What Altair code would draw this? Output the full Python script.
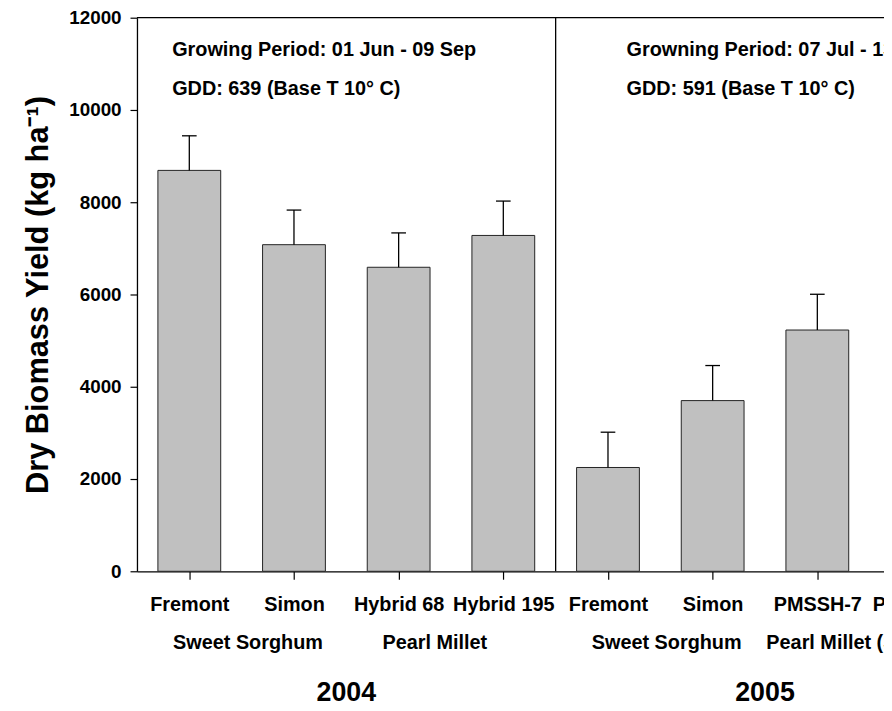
import altair as alt
import pandas as pd

# ---- data ----
cultivars = ["Fremont", "Simon", "Hybrid 68", "Hybrid 195", "Fremont", "Simon", "PMSSH-7"]
positions = [0.5, 1.5, 2.5, 3.5, 4.5, 5.5, 6.5]
yields = [8690, 7080, 6590, 7280, 2250, 3700, 5230]
errors = [750, 750, 745, 745, 765, 760, 775]

group_labels = ["Sweet Sorghum", "Pearl Millet", "Sweet Sorghum", "Pearl Millet (Sweet)"]
group_pos = [0.345, 2.345, 4.345, 6.013]

years = ["2004", "2005"]
year_pos = [2.0, 6.0]

notes = [
    "Growing Period: 01 Jun - 09 Sep",
    "GDD: 639 (Base T 10\u00b0 C)",
    "Growning Period: 07 Jul - 13 Oct",
    "GDD: 591 (Base T 10\u00b0 C)",
]
note_x = [0.336, 0.336, 4.677, 4.677]
note_y = [11160, 10320, 11160, 10320]

extra_label = ["PMSSH-11"]
extra_pos = [7.03]

y_ticks = [0, 2000, 4000, 6000, 8000, 10000, 12000]
y_max = 12000
x_max = 7.137
divider = 4.0

FONT = "Liberation Sans"
BAR_HALF = 0.3
CAP_HALF = 0.07

bars = pd.DataFrame({"name": cultivars, "pos": positions, "yield": yields, "err": errors})

x_scale = alt.Scale(domain=[0, x_max], nice=False, zero=False)
y_scale = alt.Scale(domain=[0, y_max], nice=False)

label_expr = "[" + ",".join("'" + c + "'" for c in cultivars) + "][floor(datum.value)]"

x_axis = alt.Axis(
    values=positions,
    labelExpr=label_expr,
    title=None,
    grid=False,
    tickSize=8,
    tickColor="black",
    tickWidth=1.2,
    domainColor="black",
    domainWidth=1.3,
    labelFont=FONT,
    labelFontSize=20,
    labelFontWeight="bold",
    labelColor="black",
    labelBaseline="alphabetic",
    labelPadding=32,
    labelAngle=0,
    labelFlush=False,
    labelOverlap=False,
)

y_axis = alt.Axis(
    values=y_ticks,
    format="d",
    grid=False,
    tickSize=7,
    tickColor="black",
    tickWidth=1.2,
    domainColor="black",
    domainWidth=1.3,
    labelFont=FONT,
    labelFontSize=19,
    labelFontWeight="bold",
    labelColor="black",
    labelPadding=9,
    title="Dry Biomass Yield (kg ha\u207b\u00b9)",
    titleFont=FONT,
    titleFontSize=31,
    titleFontWeight="bold",
    titleColor="black",
    titleAngle=270,
    titleAlign="center",
    titleBaseline="alphabetic",
    titleX=-90,
    titleY=279,
)

base = alt.Chart(bars).transform_calculate(
    lo=f"datum.pos - {BAR_HALF}",
    hi=f"datum.pos + {BAR_HALF}",
    top="datum.yield + datum.err",
    clo=f"datum.pos - {CAP_HALF}",
    chi=f"datum.pos + {CAP_HALF}",
    zero="0",
)

bar_layer = base.mark_bar(fill="#c0c0c0", stroke="#222222", strokeWidth=1).encode(
    x=alt.X("lo:Q", scale=x_scale, axis=x_axis),
    x2="hi:Q",
    y=alt.Y("yield:Q", scale=y_scale, axis=y_axis),
    y2="zero:Q",
)

stem = base.mark_rule(color="black", strokeWidth=1.3).encode(
    x=alt.X("pos:Q", scale=x_scale, axis=x_axis),
    y=alt.Y("yield:Q", scale=y_scale, axis=y_axis),
    y2="top:Q",
)

caps = base.mark_rule(color="black", strokeWidth=1.3).encode(
    x=alt.X("clo:Q", scale=x_scale, axis=x_axis),
    x2="chi:Q",
    y=alt.Y("top:Q", scale=y_scale, axis=y_axis),
)

frame = pd.DataFrame({"x": [0.0, divider], "x2": [x_max, divider], "y": [y_max, 0], "y2": [y_max, y_max]})
frame_layer = alt.Chart(frame).mark_rule(color="black", strokeWidth=1.3).encode(
    x=alt.X("x:Q", scale=x_scale, axis=x_axis),
    x2="x2:Q",
    y=alt.Y("y:Q", scale=y_scale, axis=y_axis),
    y2="y2:Q",
)

notes_df = pd.DataFrame({"text": notes, "x": note_x, "y": note_y})
notes_layer = alt.Chart(notes_df).mark_text(
    font=FONT, fontSize=20, fontWeight="bold", color="black", align="left", baseline="alphabetic"
).encode(
    x=alt.X("x:Q", scale=x_scale, axis=x_axis),
    y=alt.Y("y:Q", scale=y_scale, axis=y_axis),
    text="text:N",
)

groups_df = pd.DataFrame({"text": group_labels, "x": group_pos})
groups_layer = alt.Chart(groups_df).mark_text(
    font=FONT, fontSize=20, fontWeight="bold", color="black", align="left", baseline="alphabetic"
).encode(
    x=alt.X("x:Q", scale=x_scale, axis=x_axis),
    y=alt.value(636),
    text="text:N",
)

extra_df = pd.DataFrame({"text": extra_label, "x": extra_pos})
extra_layer = alt.Chart(extra_df).mark_text(
    font=FONT, fontSize=20, fontWeight="bold", color="black", align="left", baseline="alphabetic"
).encode(
    x=alt.X("x:Q", scale=x_scale, axis=x_axis),
    y=alt.value(598),
    text="text:N",
)

years_df = pd.DataFrame({"text": years, "x": year_pos})
years_layer = alt.Chart(years_df).mark_text(
    font=FONT, fontSize=27, fontWeight="bold", color="black", align="center", baseline="alphabetic"
).encode(
    x=alt.X("x:Q", scale=x_scale, axis=x_axis),
    y=alt.value(689),
    text="text:N",
)

chart = (
    alt.layer(bar_layer, stem, caps, frame_layer, notes_layer, groups_layer, extra_layer, years_layer)
    .properties(
        width=753,
        height=558,
        autosize=alt.AutoSizeParams(type="none"),
        padding={"left": 130, "top": 7, "right": 0, "bottom": 132},
        background="white",
    )
    .configure_view(stroke=None)
)

chart.save("out.html", embed_options={"renderer": "svg", "actions": False})
